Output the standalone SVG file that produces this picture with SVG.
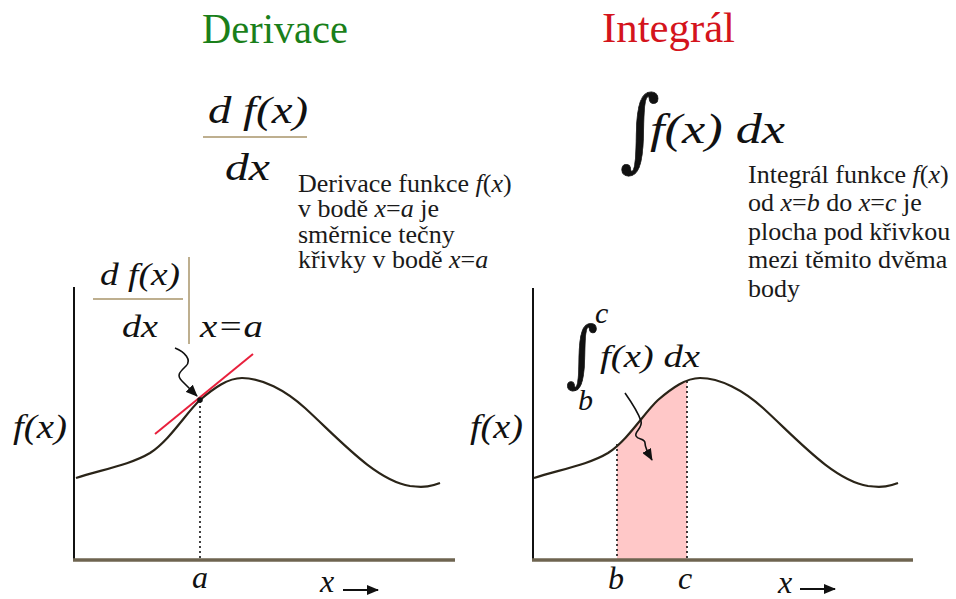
<svg xmlns="http://www.w3.org/2000/svg" width="956" height="599" viewBox="0 0 956 599">
<defs>
<style>
.title{font-family:"Liberation Serif","Times New Roman",serif;font-size:43px}
.math{font-family:"Liberation Serif","Times New Roman",serif;font-style:italic;fill:#111}
.desc{font-family:"Liberation Serif","Times New Roman",serif;font-size:26px;fill:#1a1a1a}
.it{font-style:italic}
.sym{font-family:"DejaVu Serif",serif;fill:#111;stroke:#111;stroke-width:0.8}
.curve{fill:none;stroke:#2a2418;stroke-width:2.2}
.yaxis{stroke:#111;stroke-width:2}
.xaxis{stroke:#6e6450;stroke-width:3.5}
.dot{stroke:#111;stroke-width:1.6;stroke-dasharray:2 3}
.rule{stroke:#a8946a;stroke-width:1.5}
.squig{fill:none;stroke:#111;stroke-width:1.6}
</style>
<marker id="ah" viewBox="0 0 12 10" refX="11" refY="5" markerWidth="12" markerHeight="10" markerUnits="userSpaceOnUse" orient="auto">
<path d="M0,0 L12,5 L0,10 Z" fill="#111"/>
</marker>
<clipPath id="bc"><rect x="617" y="300" width="70" height="260"/></clipPath>
</defs>
<rect width="956" height="599" fill="#fff"/>

<g id="title-derivace"><text class="title" x="202" y="43" fill="#1a7f1a" textLength="146" lengthAdjust="spacingAndGlyphs">Derivace</text></g>
<g id="title-integral"><text class="title" x="602" y="42" fill="#d4141c" textLength="133" lengthAdjust="spacingAndGlyphs">Integrál</text></g>

<g id="formula-derivative">
<text class="math" x="208" y="123" font-size="38" textLength="100" lengthAdjust="spacingAndGlyphs">d f(x)</text>
<line class="rule" x1="203" y1="137" x2="307" y2="137"/>
<text class="math" x="225" y="180" font-size="38" textLength="45" lengthAdjust="spacingAndGlyphs">dx</text>
</g>

<g id="formula-integral">
<text class="sym" x="620" y="160" font-size="90" transform="translate(620 160) scale(0.85 1) translate(-620 -160)">∫</text>
<text class="math" x="650" y="143" font-size="42" textLength="135" lengthAdjust="spacingAndGlyphs">f(x) dx</text>
</g>

<g id="desc-derivative">
<text class="desc" x="298" y="192">Derivace funkce <tspan class="it">f</tspan>(<tspan class="it">x</tspan>)</text>
<text class="desc" x="298" y="217">v bodě <tspan class="it">x</tspan>=<tspan class="it">a</tspan> je</text>
<text class="desc" x="298" y="243">směrnice tečny</text>
<text class="desc" x="298" y="268">křivky v bodě <tspan class="it">x</tspan>=<tspan class="it">a</tspan></text>
</g>

<g id="desc-integral">
<text class="desc" x="748" y="183">Integrál funkce <tspan class="it">f</tspan>(<tspan class="it">x</tspan>)</text>
<text class="desc" x="748" y="211">od <tspan class="it">x</tspan>=<tspan class="it">b</tspan> do <tspan class="it">x</tspan>=<tspan class="it">c</tspan> je</text>
<text class="desc" x="748" y="240">plocha pod křivkou</text>
<text class="desc" x="748" y="268">mezi těmito dvěma</text>
<text class="desc" x="748" y="297">body</text>
</g>

<g id="graph-derivative">
<line class="yaxis" x1="74" y1="287" x2="74" y2="561"/>
<line class="xaxis" x1="73" y1="560" x2="455" y2="560"/>
<line class="dot" x1="200" y1="401" x2="200" y2="558"/>
<path class="curve" d="M76,478 C100,470 130,465 150,453 C170,440 186,413 200,400 C214,388 228,378 242,378 C262,378 285,390 305,408 C340,440 375,480 410,486 C425,488 432,486 440,483"/>
<line x1="155" y1="434" x2="253" y2="354" stroke="#e8203c" stroke-width="2"/>
<circle cx="200" cy="400" r="2.8" fill="#111"/>
<text class="math" x="13" y="438" font-size="33" textLength="54" lengthAdjust="spacingAndGlyphs">f(x)</text>
<text class="math" x="192" y="588" font-size="32">a</text>
<text class="math" x="320" y="592" font-size="32">x</text>
</g>

<g id="label-derivative">
<text class="math" x="100" y="285" font-size="31" textLength="80" lengthAdjust="spacingAndGlyphs">d f(x)</text>
<line class="rule" x1="93" y1="299" x2="183" y2="299"/>
<text class="math" x="122" y="337" font-size="31" textLength="36" lengthAdjust="spacingAndGlyphs">dx</text>
<line class="rule" x1="189" y1="257" x2="189" y2="344"/>
<text class="math" x="200" y="337" font-size="31" textLength="63" lengthAdjust="spacingAndGlyphs">x=a</text>
</g>

<g id="graph-integral">
<path d="M534,478 C558,470 588,465 608,453 C628,440 644,413 658,400 C672,388 686,378 700,378 C720,378 743,390 763,408 L763,560 L534,560 Z" fill="#ffc8c8" clip-path="url(#bc)"/>
<line class="yaxis" x1="533" y1="288" x2="533" y2="561"/>
<line class="xaxis" x1="532" y1="560" x2="913" y2="560"/>
<line class="dot" x1="617" y1="444" x2="617" y2="558"/>
<line class="dot" x1="687" y1="381" x2="687" y2="558"/>
<path class="curve" d="M534,478 C558,470 588,465 608,453 C628,440 644,413 658,400 C672,388 686,378 700,378 C720,378 743,390 763,408 C798,440 833,480 868,486 C883,488 890,486 898,483"/>
<text class="math" x="470" y="438" font-size="33" textLength="53" lengthAdjust="spacingAndGlyphs">f(x)</text>
<text class="math" x="608" y="589" font-size="32">b</text>
<text class="math" x="678" y="589" font-size="32">c</text>
<text class="math" x="778" y="593" font-size="32">x</text>
</g>

<g id="label-integral">
<text class="sym" x="566" y="378" font-size="72" transform="translate(566 378) scale(0.85 1) translate(-566 -378)">∫</text>
<text class="math" x="595" y="323" font-size="30">c</text>
<text class="math" x="578" y="410" font-size="30">b</text>
<text class="math" x="600" y="367" font-size="32" textLength="100" lengthAdjust="spacingAndGlyphs">f(x) dx</text>
</g>

<g id="connectors">
<path class="squig" d="M175,348 C185,352 192,360 186,366 C180,372 176,375 182,381 C186,385 190,389 197,396" marker-end="url(#ah)"/>
<path class="squig" d="M625,393 C632,403 638,412 641,421 C643,428 634,432 636,436 C638,440 645,438 645,443 C645,448 648,453 652,460" marker-end="url(#ah)"/>
<line x1="343" y1="590" x2="378" y2="590" stroke="#111" stroke-width="2" marker-end="url(#ah)"/>
<line x1="800" y1="589" x2="835" y2="589" stroke="#111" stroke-width="2" marker-end="url(#ah)"/>
</g>
</svg>
